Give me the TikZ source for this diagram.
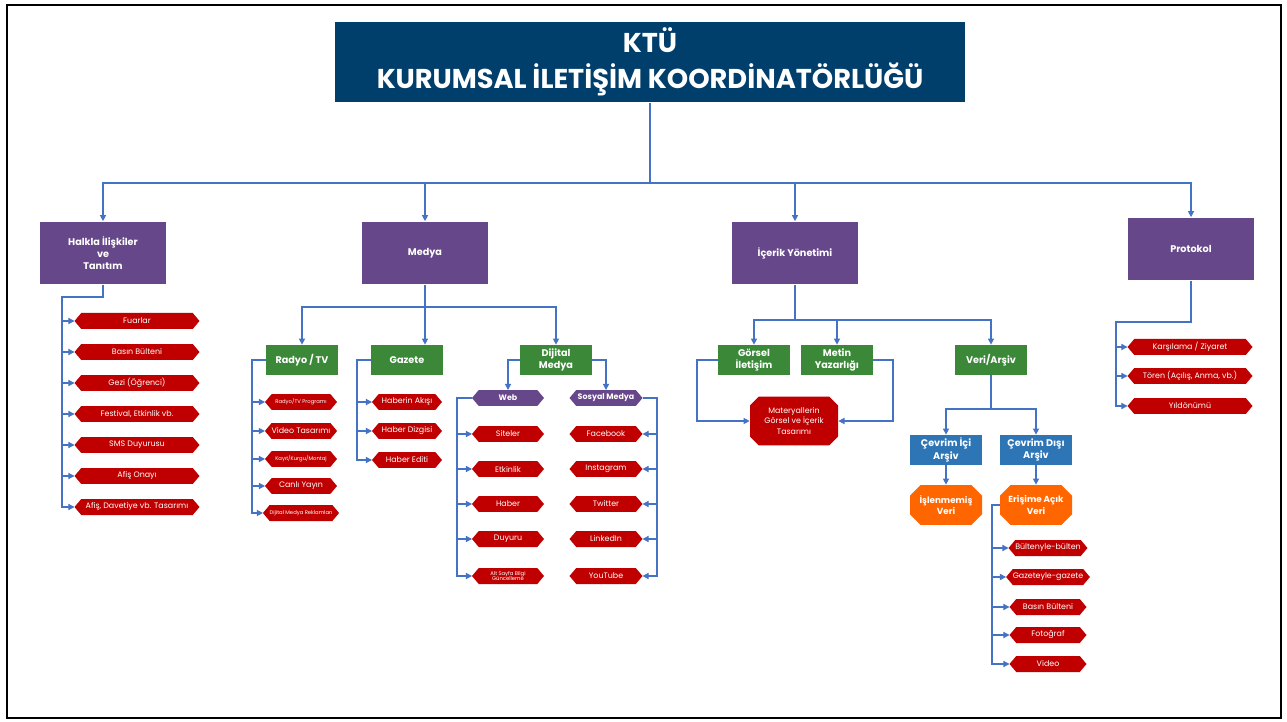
\documentclass[tikz,border=0pt]{standalone}
\usepackage{fontspec}
\setmainfont{Poppins}
\usetikzlibrary{arrows.meta,shapes.symbols,shapes.misc}
\definecolor{ktunavy}{RGB}{0,62,107}
\definecolor{ktupurple}{RGB}{102,72,138}
\definecolor{ktugreen}{RGB}{58,136,56}
\definecolor{ktured}{RGB}{192,0,0}
\definecolor{ktublue}{RGB}{46,117,182}
\definecolor{ktuorange}{RGB}{255,102,0}
\definecolor{wireblue}{RGB}{68,114,196}
\tikzset{
  wire/.style={draw=wireblue,line width=0.7pt,-{Triangle[length=3.5pt,width=3.5pt]}},
  topbox/.style={fill=ktunavy,text=white,minimum width=12.6cm,minimum height=1.62cm,align=center,
    font=\bfseries\fontsize{15.5}{20.5}\selectfont},
  unitbox/.style={fill=ktupurple,text=white,minimum width=2.52cm,minimum height=1.26cm,align=center,
    inner sep=1pt,font=\bfseries\fontsize{5.5}{7}\selectfont},
  subbox/.style={fill=ktugreen,text=white,minimum width=1.44cm,minimum height=0.6cm,align=center,
    inner sep=1pt,font=\bfseries\fontsize{5.5}{7}\selectfont},
  arcbox/.style={subbox,fill=ktublue},
  databox/.style={chamfered rectangle,chamfered rectangle xsep=3pt,chamfered rectangle ysep=3pt,
    fill=ktuorange,text=white,minimum width=1.44cm,minimum height=0.8cm,align=center,inner sep=1pt,
    font=\bfseries\fontsize{5}{6.5}\selectfont},
  hexa/.style={signal,signal to=west and east,signal pointer angle=100,fill=ktured,text=white,
    inner sep=0pt,outer sep=0pt,minimum height=0.32cm,minimum width=#1,align=center,
    font=\fontsize{4.5}{5}\selectfont},
  tiny/.style={font=\fontsize{3}{3.4}\selectfont},
}
\begin{document}
\begin{tikzpicture}[x=0.02cm,y=-0.02cm]
  \useasboundingbox (0,0) rectangle (1287,722);
  \draw[line width=0.6pt] (7,5) rectangle (1281,718);
  % top
  \node[topbox] (ktu) at (650,62) {KTÜ\\KURUMSAL İLETİŞİM KOORDİNATÖRLÜĞÜ};
  \coordinate (bus) at (650,183);
  % units
  \node[unitbox] (halkla) at (103,253) {Halkla İlişkiler\\ve\\Tanıtım};
  \node[unitbox] (medya) at (425,253) {Medya};
  \node[unitbox] (icerik) at (795,253) {İçerik Yönetimi};
  \node[unitbox] (protokol) at (1191,249) {Protokol};
  \draw[wire] (ktu.south) -- (bus) -| (halkla.north);
  \draw[wire] (ktu.south) -- (bus) -| (medya.north);
  \draw[wire] (ktu.south) -- (bus) -| (icerik.north);
  \draw[wire] (ktu.south) -- (bus) -| (protokol.north);
  % halkla iliskiler
  \node[hexa=2.5cm] (h1) at (137,321) {Fuarlar};
  \node[hexa=2.5cm] (h2) at (137,352) {Basın Bülteni};
  \node[hexa=2.5cm] (h3) at (137,383) {Gezi (Öğrenci)};
  \node[hexa=2.5cm] (h4) at (137,414) {Festival, Etkinlik vb.};
  \node[hexa=2.5cm] (h5) at (137,445) {SMS Duyurusu};
  \node[hexa=2.5cm] (h6) at (137,476) {Afiş Onayı};
  \node[hexa=2.5cm] (h7) at (137,507) {Afiş, Davetiye vb. Tasarımı};
  \draw[wire] (halkla.south) |- (62,297) |- (h1.west);
  \draw[wire] (halkla.south) |- (62,297) |- (h2.west);
  \draw[wire] (halkla.south) |- (62,297) |- (h3.west);
  \draw[wire] (halkla.south) |- (62,297) |- (h4.west);
  \draw[wire] (halkla.south) |- (62,297) |- (h5.west);
  \draw[wire] (halkla.south) |- (62,297) |- (h6.west);
  \draw[wire] (halkla.south) |- (62,297) |- (h7.west);
  % medya
  \coordinate (mb) at (425,307);
  \node[subbox] (radyo) at (302,360) {Radyo / TV};
  \node[subbox] (gazete) at (407,360) {Gazete};
  \node[subbox] (dijital) at (556,360) {Dijital\\Medya};
  \draw[wire] (medya.south) -- (mb) -| (radyo.north);
  \draw[wire] (medya.south) -- (gazete.north -| medya.south);
  \draw[wire] (medya.south) -- (mb) -| (dijital.north);
  \node[hexa=1.44cm,tiny] (r1) at (301,402) {Radyo/TV Programı};
  \node[hexa=1.44cm] (r2) at (301,431) {Video Tasarımı};
  \node[hexa=1.44cm,tiny] (r3) at (301,459) {Kayıt/Kurgu/Montaj};
  \node[hexa=1.44cm] (r4) at (301,486) {Canlı Yayın};
  \node[hexa=1.44cm,tiny] (r5) at (301,513) {Dijital Medya Reklamları};
  \draw[wire] (radyo.west) -- (252,360) |- (r1.west);
  \draw[wire] (radyo.west) -- (252,360) |- (r2.west);
  \draw[wire] (radyo.west) -- (252,360) |- (r3.west);
  \draw[wire] (radyo.west) -- (252,360) |- (r4.west);
  \draw[wire] (radyo.west) -- (252,360) |- (r5.west);
  \node[hexa=1.4cm] (g1) at (407,402) {Haberin Akışı};
  \node[hexa=1.4cm] (g2) at (407,431) {Haber Dizgisi};
  \node[hexa=1.4cm] (g3) at (407,460) {Haber Editi};
  \draw[wire] (gazete.west) -- (357,360) |- (g1.west);
  \draw[wire] (gazete.west) -- (357,360) |- (g2.west);
  \draw[wire] (gazete.west) -- (357,360) |- (g3.west);
  % dijital medya
  \node[hexa=1.44cm,fill=ktupurple,font=\bfseries\fontsize{4.5}{5}\selectfont] (web) at (508,398) {Web};
  \node[hexa=1.46cm,fill=ktupurple,font=\bfseries\fontsize{4.5}{5}\selectfont] (sosyal) at (606,398) {Sosyal Medya};
  \draw[wire] (dijital.west) -| (web.north);
  \draw[wire] (dijital.east) -| (sosyal.north);
  \node[hexa=1.44cm] (w1) at (508,434) {Siteler};
  \node[hexa=1.44cm] (w2) at (508,469) {Etkinlik};
  \node[hexa=1.44cm] (w3) at (508,504) {Haber};
  \node[hexa=1.44cm] (w4) at (508,539) {Duyuru};
  \node[hexa=1.44cm,tiny] (w5) at (508,576) {Alt Sayfa Bilgi\\Güncelleme};
  \draw[wire] (web.west) -- (457,398) |- (w1.west);
  \draw[wire] (web.west) -- (457,398) |- (w2.west);
  \draw[wire] (web.west) -- (457,398) |- (w3.west);
  \draw[wire] (web.west) -- (457,398) |- (w4.west);
  \draw[wire] (web.west) -- (457,398) |- (w5.west);
  \node[hexa=1.46cm] (s1) at (606,434) {Facebook};
  \node[hexa=1.46cm] (s2) at (606,469) {Instagram};
  \node[hexa=1.46cm] (s3) at (606,504) {Twitter};
  \node[hexa=1.46cm] (s4) at (606,539) {LinkedIn};
  \node[hexa=1.46cm] (s5) at (606,576) {YouTube};
  \draw[wire] (sosyal.east) -- (657,398) |- (s1.east);
  \draw[wire] (sosyal.east) -- (657,398) |- (s2.east);
  \draw[wire] (sosyal.east) -- (657,398) |- (s3.east);
  \draw[wire] (sosyal.east) -- (657,398) |- (s4.east);
  \draw[wire] (sosyal.east) -- (657,398) |- (s5.east);
  % icerik yonetimi
  \coordinate (ib) at (795,320);
  \node[subbox] (gorsel) at (754,360) {Görsel\\İletişim};
  \node[subbox] (metin) at (837,360) {Metin\\Yazarlığı};
  \node[subbox] (veri) at (991,360) {Veri/Arşiv};
  \draw[wire] (icerik.south) -- (ib) -| (gorsel.north);
  \draw[wire] (icerik.south) -- (ib) -| (metin.north);
  \draw[wire] (icerik.south) -- (ib) -| (veri.north);
  \node[chamfered rectangle,chamfered rectangle xsep=2.5pt,chamfered rectangle ysep=2.5pt,fill=ktured,
    text=white,minimum width=1.76cm,minimum height=0.98cm,inner sep=1pt,align=center,
    font=\fontsize{4.5}{6}\selectfont] (mat) at (794,421) {Materyallerin\\Görsel ve İçerik\\Tasarımı};
  \draw[wire] (gorsel.west) -- (697,360) |- (mat.west);
  \draw[wire] (metin.east) -- (893,360) |- (mat.east);
  % veri arsiv
  \coordinate (vb) at (991,409);
  \node[arcbox] (cici) at (946,450) {Çevrim İçi\\Arşiv};
  \node[arcbox] (cdisi) at (1036,450) {Çevrim Dışı\\Arşiv};
  \draw[wire] (veri.south) -- (vb) -| (cici.north);
  \draw[wire] (veri.south) -- (vb) -| (cdisi.north);
  \node[databox] (islen) at (946,505) {İşlenmemiş\\Veri};
  \node[databox] (erisim) at (1036,505) {Erişime Açık\\Veri};
  \draw[wire] (cici.south) -- (islen.north);
  \draw[wire] (cdisi.south) -- (erisim.north);
  \node[hexa=1.54cm] (e1) at (1048,548) {Bültenyle-bülten};
  \node[hexa=1.54cm] (e2) at (1048,577) {Gazeteyle-gazete};
  \node[hexa=1.54cm] (e3) at (1048,607) {Basın Bülteni};
  \node[hexa=1.54cm] (e4) at (1048,635) {Fotoğraf};
  \node[hexa=1.54cm] (e5) at (1048,664) {Video};
  \draw[wire] (erisim.west) -- (992,505) |- (e1.west);
  \draw[wire] (erisim.west) -- (992,505) |- (e2.west);
  \draw[wire] (erisim.west) -- (992,505) |- (e3.west);
  \draw[wire] (erisim.west) -- (992,505) |- (e4.west);
  \draw[wire] (erisim.west) -- (992,505) |- (e5.west);
  % protokol
  \node[hexa=2.5cm] (p1) at (1190,347) {Karşılama / Ziyaret};
  \node[hexa=2.5cm] (p2) at (1190,376) {Tören (Açılış, Anma, vb.)};
  \node[hexa=2.5cm] (p3) at (1190,406) {Yıldönümü};
  \draw[wire] (protokol.south) |- (1116,322) |- (p1.west);
  \draw[wire] (protokol.south) |- (1116,322) |- (p2.west);
  \draw[wire] (protokol.south) |- (1116,322) |- (p3.west);
\end{tikzpicture}
\end{document}
